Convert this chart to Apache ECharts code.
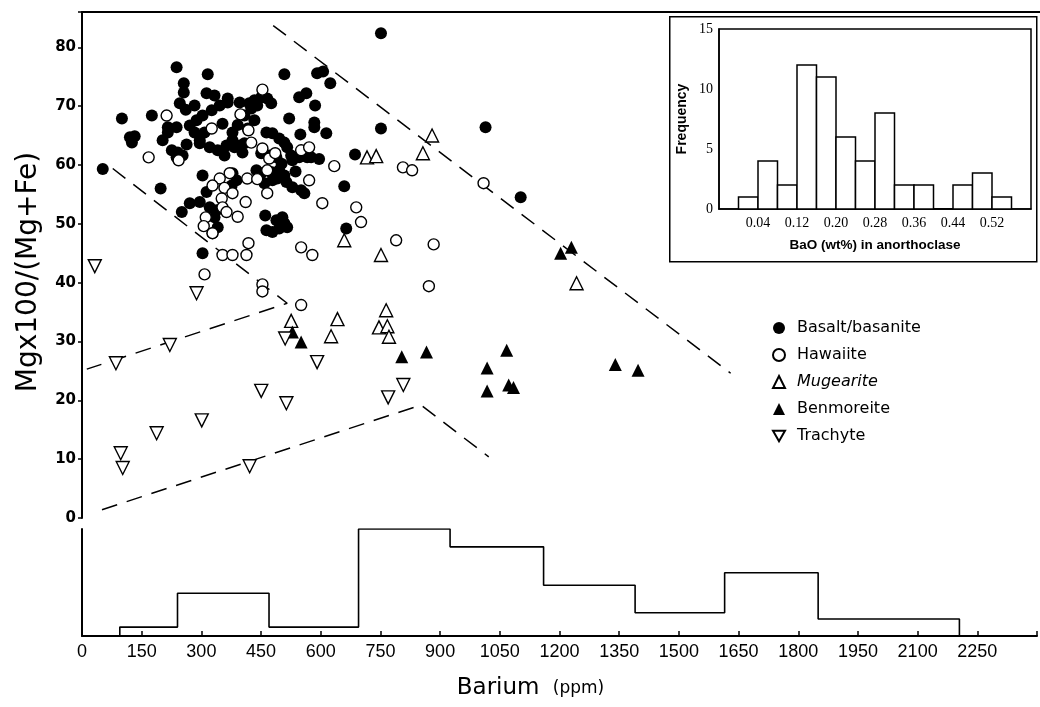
<!DOCTYPE html>
<html><head><meta charset="utf-8">
<script src="https://cdn.jsdelivr.net/npm/echarts@6/dist/echarts.min.js"></script>
<style>html,body{margin:0;padding:0;background:#fff}#c{width:1040px;height:707px}</style>
</head><body><div id="c"></div>
<script>
// ---- data (Barium ppm, Mg x100/(Mg+Fe)) ----
const basalt = [[749,82.4],[237,76.6],[315,75.4],[507,75.4],[589,75.6],[604,75.9],[622,73.9],[255,73.9],[255,72.3],[245,70.5],[282,70.1],[312,72.2],[332,71.8],[365,71.3],[395,70.6],[419,70.5],[432,71.0],[449,71.5],[464,71.3],[474,70.5],[100,67.9],[175,68.4],[120,64.7],[132,64.9],[125,63.8],[202,64.2],[215,65.5],[225,62.5],[240,62.1],[252,61.6],[237,61.3],[215,66.4],[237,66.4],[287,67.6],[302,68.4],[325,69.3],[345,70.1],[365,70.6],[270,66.7],[282,65.5],[295,64.2],[307,65.5],[320,63.0],[295,63.7],[340,62.5],[362,63.3],[377,64.2],[377,65.5],[395,63.3],[407,63.7],[402,62.1],[357,61.6],[462,65.5],[477,65.4],[494,64.5],[507,63.8],[514,63.0],[524,61.6],[527,60.8],[519,67.9],[544,71.5],[562,72.2],[584,70.1],[582,67.2],[582,66.4],[547,65.2],[612,65.4],[749,66.2],[684,61.8],[657,56.4],[662,49.2],[574,61.3],[594,61.0],[544,61.3],[564,61.3],[449,62.0],[469,61.6],[487,61.3],[437,59.1],[449,58.6],[474,58.8],[494,59.1],[507,58.2],[512,57.1],[489,57.7],[477,57.4],[457,56.9],[527,56.2],[549,55.7],[557,55.2],[377,58.6],[387,57.4],[375,56.5],[302,58.2],[312,55.4],[250,52.0],[270,53.5],[295,53.7],[320,52.8],[337,52.3],[332,51.1],[340,49.4],[327,48.4],[302,45.0],[197,56.0],[52,59.3],[459,51.4],[462,48.9],[477,48.6],[494,49.2],[507,50.1],[514,49.4],[502,51.1],[487,50.6],[1011,66.4],[1099,54.5],[382,63.0],[424,69.6],[439,70.1],[407,68.4],[432,67.6],[415,66.2],[260,69.4],[352,67.0],[390,66.8],[262,63.5],[500,60.2],[535,58.9]];
const hawaiite = [[212,68.4],[167,61.3],[242,60.8],[325,66.2],[397,68.6],[452,72.8],[417,65.9],[424,63.8],[452,62.8],[469,61.1],[484,62.0],[464,59.1],[414,57.7],[370,58.6],[345,57.7],[327,56.5],[357,56.1],[377,55.2],[350,54.3],[352,52.8],[362,52.0],[390,51.2],[410,53.7],[464,55.2],[310,51.1],[305,49.6],[327,48.4],[352,44.7],[377,44.7],[412,44.7],[417,46.7],[307,41.4],[452,39.7],[452,38.5],[549,46.0],[577,44.7],[549,36.2],[549,62.5],[569,63.0],[569,57.4],[602,53.5],[632,59.8],[687,52.8],[699,50.3],[787,47.2],[804,59.6],[827,59.1],[1006,56.9],[881,46.5],[869,39.4],[439,57.6]];
const mugearite = [[657,47.2],[749,44.7],[714,61.3],[737,61.5],[877,65.0],[854,62.0],[762,35.3],[1239,39.9],[524,33.5],[640,33.8],[624,30.9],[744,32.4],[765,32.6],[769,30.8]];
const benmoreite = [[527,31.6],[549,29.9],[801,27.4],[863,28.2],[1015,25.5],[1064,28.5],[1015,21.6],[1069,22.6],[1081,22.2],[1336,26.1],[1393,25.1],[1199,45.0],[1226,46.0]];
const trachyte = [[32,42.8],[287,38.2],[85,26.3],[220,29.4],[97,11.0],[102,8.5],[187,14.4],[300,16.6],[420,8.8],[449,21.6],[512,19.5],[509,30.5],[589,26.5],[767,20.5],[805,22.6]];
const boundaryUpper = [[479,83.7],[1625,24.6]];
const boundaryMiddle = [[77,59.4],[514,36.5],[12,25.3]];
const boundaryLower = [[50,1.4],[849,19.2],[1019,10.4]];
// Barium histogram (lower panel)
const baBinEdges = [95,240,470,695,925,1160,1390,1615,1850,2205];
const baBinCounts = [1,4.8,1,12,10,5.7,2.6,7.1,1.9];
const baTickLabels = [0,150,300,450,600,750,900,1050,1200,1350,1500,1650,1800,1950,2100,2250];
// BaO in anorthoclase histogram (inset)
const baoBinStart = [0.00,0.04,0.08,0.12,0.16,0.20,0.24,0.28,0.32,0.36,0.40,0.44,0.48,0.52];
const baoFreq = [1,4,2,12,11,6,4,8,2,2,0,2,3,1];
const baoBinWidth = 0.04;
const baoTickLabels = ['0.04','0.12','0.20','0.28','0.36','0.44','0.52'];

// step outline for the Ba histogram
const baStep = [[baBinEdges[0],0]];
baBinCounts.forEach((c,i)=>{ baStep.push([baBinEdges[i],c]); baStep.push([baBinEdges[i+1],c]); });
baStep.push([baBinEdges[baBinEdges.length-1],0]);

const chart = echarts.init(document.getElementById('c'));
const black = '#000';
const dash = {color:black,width:1.5,type:[16,10]};
const scat = (name,data,symbol,fill,size,rot)=>({
  name,type:'scatter',xAxisIndex:0,yAxisIndex:0,data,symbol,symbolSize:size,symbolRotate:rot||0,
  itemStyle:{color:fill,borderColor:black,borderWidth:fill==='#fff'?1.4:0,opacity:1},
  emphasis:{disabled:true},z:3
});
const lineS = (data)=>({type:'line',xAxisIndex:0,yAxisIndex:0,data,symbol:'none',lineStyle:dash,silent:true,z:2});

chart.setOption({
  animation:false,
  backgroundColor:'#fff',
  grid:[
    {left:82,top:12,width:961,height:506},
    {left:82,top:529,width:961,height:107},
    {left:719,top:29,width:312,height:180,show:true,borderColor:black,borderWidth:1.5,backgroundColor:'#fff',z:3}
  ],
  xAxis:[
    {gridIndex:0,type:'value',min:0,max:2400,show:false},
    {gridIndex:0,type:'value',min:0,max:2400,position:'top',axisLine:{show:true,lineStyle:{color:black,width:2}},axisTick:{show:false},axisLabel:{show:false},splitLine:{show:false}},
    {gridIndex:1,type:'value',min:0,max:2400,interval:150,
      axisLine:{show:true,onZero:false,lineStyle:{color:black,width:2}},
      axisTick:{show:true,inside:true,length:5,lineStyle:{color:black,width:1.5}},
      axisLabel:{margin:7,color:black,fontFamily:'Liberation Sans',fontSize:18,
        formatter:v=>baTickLabels.indexOf(v)>=0?String(v):''},
      splitLine:{show:false},
      name:'{a|Barium}    {b|(ppm)}',nameLocation:'middle',nameGap:41,
      nameTextStyle:{padding:[0,58,0,0],rich:{a:{fontFamily:'DejaVu Sans',fontSize:23,color:black},b:{fontFamily:'DejaVu Sans',fontSize:17,color:black}}}},
    {gridIndex:2,type:'value',min:-0.04,max:0.60,interval:0.08,z:4,
      axisLine:{show:true,onZero:false,lineStyle:{color:black,width:1.5}},axisTick:{show:false},splitLine:{show:false},
      axisLabel:{margin:7,color:black,fontFamily:'Liberation Serif',fontSize:14,
        formatter:v=>{const s=v.toFixed(2);return baoTickLabels.indexOf(s)>=0?s:'';}},
      name:'BaO (wt%) in anorthoclase',nameLocation:'middle',nameGap:29,
      nameTextStyle:{color:black,fontFamily:'Liberation Sans',fontWeight:'bold',fontSize:13.5}}
  ],
  yAxis:[
    {gridIndex:0,type:'value',min:0,max:86,interval:10,
      axisLine:{show:true,onZero:false,lineStyle:{color:black,width:2}},
      axisTick:{show:true,length:4,lineStyle:{color:black,width:1.5}},
      axisLabel:{margin:6,color:black,fontFamily:'DejaVu Sans',fontWeight:'bold',fontSize:15,formatter:v=>v%10===0?String(v):''},
      splitLine:{show:false},
      name:'Mgx100/(Mg+Fe)',nameLocation:'middle',nameGap:39,nameRotate:90,
      nameTextStyle:{color:black,fontFamily:'DejaVu Sans',fontSize:28,padding:[0,14,0,0]}},
    {gridIndex:1,type:'value',min:0,max:12,
      axisLine:{show:true,onZero:false,lineStyle:{color:black,width:2}},axisTick:{show:false},axisLabel:{show:false},splitLine:{show:false}},
    {gridIndex:2,type:'value',min:0,max:15,interval:5,z:4,
      axisLine:{show:true,onZero:false,lineStyle:{color:black,width:1.5}},axisTick:{show:false},splitLine:{show:false},
      axisLabel:{margin:6,color:black,fontFamily:'Liberation Serif',fontSize:14},
      name:'Frequency',nameLocation:'middle',nameGap:30,nameRotate:90,
      nameTextStyle:{color:black,fontFamily:'Liberation Sans',fontWeight:'bold',fontSize:14}}
  ],
  graphic:{elements:[
    {type:'rect',left:669,top:16,z:1,shape:{width:367,height:245},style:{fill:'#fff',stroke:black,lineWidth:1.5}}
  ]},
  legend:{
    orient:'vertical',left:767,top:315,itemWidth:12,itemHeight:12,itemGap:11,
    data:['Basalt/basanite','Hawaiite','Mugearite','Benmoreite',
      {name:'Trachyte',icon:'path://M0,0L20,0L10,17.3Z'}],
    formatter:n=>n==='Mugearite'?'{i|'+n+'}':'{n|'+n+'}',
    textStyle:{padding:[0,0,0,7],rich:{
      n:{fontFamily:'DejaVu Sans',fontSize:16,color:black,lineHeight:16},
      i:{fontFamily:'DejaVu Sans',fontSize:16,fontStyle:'italic',color:black,lineHeight:16}}}
  },
  series:[
    lineS(boundaryUpper),lineS(boundaryMiddle),lineS(boundaryLower),
    scat('Basalt/basanite',basalt,'circle',black,12),
    scat('Hawaiite',hawaiite,'circle','#fff',11),
    scat('Mugearite',mugearite,'triangle','#fff',13),
    scat('Benmoreite',benmoreite,'triangle',black,13),
    scat('Trachyte',trachyte,'triangle','#fff',13,180),
    {type:'line',xAxisIndex:2,yAxisIndex:1,data:baStep,symbol:'none',silent:true,
      lineStyle:{color:black,width:1.6}},
    {type:'custom',xAxisIndex:3,yAxisIndex:2,z:5,silent:true,
      data:baoBinStart.map((s,i)=>[s,baoFreq[i]]),
      renderItem:(params,api)=>{
        const x0=api.value(0),h=api.value(1);
        const p0=api.coord([x0,h]),p1=api.coord([x0+baoBinWidth,0]);
        return {type:'rect',shape:{x:p0[0],y:p0[1],width:p1[0]-p0[0],height:p1[1]-p0[1]},
          style:{fill:'#fff',stroke:black,lineWidth:1.5}};
      }}
  ]
});
</script></body></html>
